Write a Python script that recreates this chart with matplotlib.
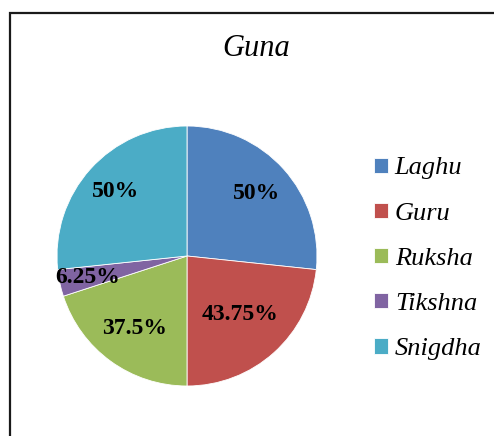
import numpy as np
import matplotlib
matplotlib.use('Agg')
import matplotlib.pyplot as plt
from matplotlib.patches import Rectangle

plt.rcParams['font.family'] = ['Liberation Serif', 'DejaVu Serif']

categories = ['Laghu', 'Guru', 'Ruksha', 'Tikshna', 'Snigdha']
values = [50, 43.75, 37.5, 6.25, 50]
value_labels = ['50%', '43.75%', '37.5%', '6.25%', '50%']
colors = ['#4F81BD', '#C0504D', '#9BBB59', '#8064A2', '#4BACC6']

# label distance from centre (fraction of radius), per slice
label_r = [0.72, 0.61, 0.69, 0.78, 0.74]

fig = plt.figure(figsize=(4.94, 4.36), dpi=100)

# outer chart border (runs off right/bottom edge)
fig.patches.append(Rectangle((10 / 494, -0.05), 1.0, (436 - 13) / 436 + 0.05,
                             transform=fig.transFigure, fill=False,
                             edgecolor='#1a1a1a', linewidth=1.6))

ax = fig.add_axes([57 / 494, (436 - 386) / 436, 260 / 494, 260 / 436])
wedges, _ = ax.pie(values, colors=colors, startangle=90, counterclock=False,
                   radius=1.0, wedgeprops=dict(edgecolor='white', linewidth=0.6))
ax.set_xlim(-1, 1)
ax.set_ylim(-1, 1)
ax.set_aspect('equal')

for w, lab, r in zip(wedges, value_labels, label_r):
    ang = np.deg2rad((w.theta1 + w.theta2) / 2)
    ax.text(r * np.cos(ang), r * np.sin(ang), lab, ha='center', va='center',
            fontsize=17, fontweight='bold', color='black')

fig.text(256 / 494, 1 - 48 / 436, 'Guna', ha='center', va='center',
         fontsize=22, fontstyle='italic')

leg = fig.legend(wedges, categories, loc='upper left',
                 bbox_to_anchor=(356 / 494, 1 - 139 / 436), frameon=False,
                 prop=dict(style='italic', size=19), handlelength=0.5,
                 handleheight=0.5, handletextpad=0.27, labelspacing=0.88,
                 borderpad=0.2)

fig.savefig('out.png', dpi=100)
